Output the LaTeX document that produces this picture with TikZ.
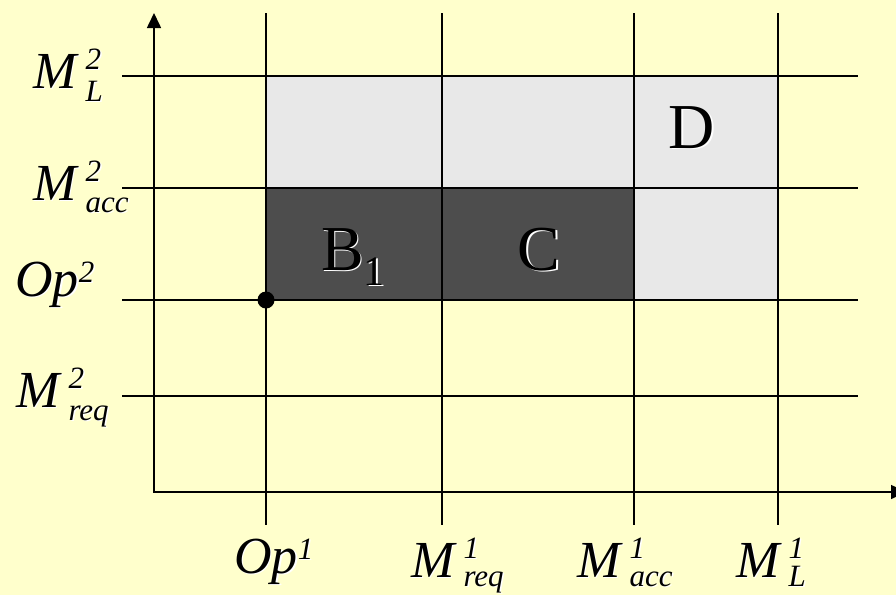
\documentclass[tikz,border=0pt]{standalone}
\usepackage{fontspec}
\setmainfont{Liberation Serif}
\usepackage{tikz}
\usetikzlibrary{positioning, arrows.meta}

\definecolor{paper}{HTML}{FFFFCC}
\definecolor{lightcell}{HTML}{E8E8E8}
\definecolor{darkcell}{HTML}{4D4D4D}

% white drop shadow behind a text
\newcommand{\shad}[1]{\rlap{\kern1.5pt\raisebox{-1.5pt}{\color{white}#1}}#1}
% level label: M with stacked super- and subscript (#4 = depth of subscript)
\newcommand{\lvl}[4]{\itshape M\kern9pt\rlap{\raisebox{19pt}{\fontsize{31}{31}\selectfont #2}}\raisebox{-#4}{\fontsize{31}{31}\selectfont #3}}
\newcommand{\opl}[1]{\itshape Op\raisebox{14pt}{\fontsize{31}{31}\selectfont #1}}

\begin{document}
\begin{tikzpicture}[x=1pt, y=-1pt,
    axis/.style={line width=1.6pt, {Triangle[width=14pt,length=15pt]}-{Triangle[width=14pt,length=15pt]}},
    gridline/.style={line width=1.4pt},
    lab/.style={inner sep=0pt, anchor=base west, font=\fontsize{52}{52}\selectfont},
    cell/.style={inner sep=0pt, anchor=base, font=\fontsize{64}{64}\selectfont}]
    \fill[paper] (0,0) rectangle (896,595);
    \useasboundingbox (0,0) rectangle (896,595);

    % regions
    \fill[lightcell] (266,76) rectangle (778,300);
    \fill[darkcell] (266,188) rectangle (634,300);

    % grid
    \foreach \x in {266,442,634,778}
        \draw[gridline] (\x,13) -- (\x,525);
    \foreach \y in {76,188,300,396}
        \draw[gridline] (122,\y) -- (858,\y);

    % axes
    \coordinate (O) at (154,492);
    \coordinate (ytop) at (154,13);
    \coordinate (xend) at (906,492);
    \draw[axis] (ytop) -- (O) -- (xend);

    \coordinate (op) at (266,300);
    \fill (op) circle (8.5pt);

    % cell labels
    \node[cell] (B1) at (353,270) {\shad{B\raisebox{-15pt}{\fontsize{42}{42}\selectfont 1}}};
    \node[cell] (C) at (539,270) {\shad{C}};
    \node[cell] (D) at (692,148) {\shad{D}};

    % left labels
    \node[lab] (ML2) at (33,88) {\shad{\lvl{M}{2}{L}{13pt}}};
    \node[lab] (Macc2) at (33,200) {\shad{\lvl{M}{2}{acc}{12pt}}};
    \node[lab] (Op2) at (15,296) {\shad{\opl{2}}};
    \node[lab] (Mreq2) at (16,407) {\shad{\lvl{M}{2}{req}{13pt}}};

    % bottom labels
    \node[lab] (Op1) at (234,573) {\shad{\opl{1}}};
    \node[lab] (Mreq1) at (411,577) {\shad{\lvl{M}{1}{req}{9pt}}};
    \node[lab] (Macc1) at (577,577) {\shad{\lvl{M}{1}{acc}{9pt}}};
    \node[lab] (ML1) at (736,577) {\shad{\lvl{M}{1}{L}{9pt}}};
\end{tikzpicture}
\end{document}
